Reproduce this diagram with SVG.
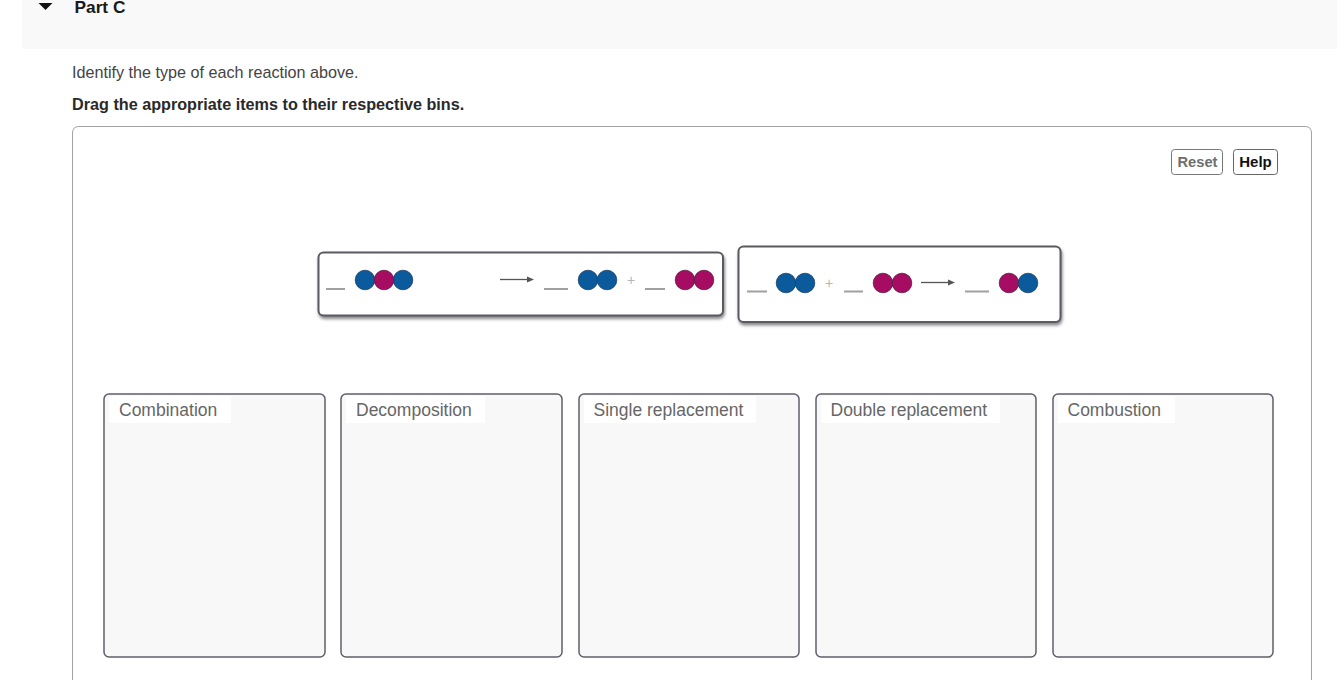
<svg xmlns="http://www.w3.org/2000/svg" width="1337" height="680" viewBox="0 0 1337 680">
<style>
text{font-family:"Liberation Sans",Arial,sans-serif}
.bin{fill:#f8f8f8;stroke:#5f5f6b;stroke-width:1.5}
.lab{fill:#fff}
.bt{font-size:17.5px;fill:#666}
.card{fill:#fff;stroke:#5a5a64;stroke-width:2}
.b{fill:#0b5a9c;stroke:#1d3f66;stroke-width:.8}
.m{fill:#a70c63;stroke:#5c1a45;stroke-width:.8}
.u{stroke:#a0a0a0;stroke-width:1.8}
.ar{stroke:#555;stroke-width:1.3}
.ah{fill:#555}
.pl{font-size:14px;fill:#b5b5b5}
</style>
<defs>
<filter id="sh" x="-5%" y="-20%" width="110%" height="140%"><feDropShadow dx="1" dy="2.500" stdDeviation="1.500" flood-color="#555" flood-opacity=".7"/></filter>
</defs>
<rect width="1337" height="680" fill="#fff"/>
<g id="header">
<rect x="22" y="0" width="1315" height="49" fill="#f9f9f9"/>
<path d="M38.500 3H52.500L45.500 10Z" fill="#111"/>
<text x="74.500" y="13" font-size="17.300" font-weight="bold" fill="#1a1a1a">Part C</text>
</g>
<text x="72" y="78" font-size="16.170" fill="#444">Identify the type of each reaction above.</text>
<text x="72" y="110" font-size="16.200" font-weight="bold" fill="#2a2a2a">Drag the appropriate items to their respective bins.</text>
<path id="panel" d="M72.500 680V133Q72.500 126.500 79 126.500H1305Q1311.500 126.500 1311.500 133V680" fill="#fff" stroke="#a3a3a3"/>
<g id="reset"><rect x="1171.500" y="149.500" width="51" height="25" rx="3" fill="#fff" stroke="#777"/><text x="1197.500" y="167" font-size="14.700" font-weight="bold" fill="#6e6e6e" text-anchor="middle">Reset</text></g>
<g id="help"><rect x="1233.500" y="149.500" width="44" height="25" rx="3" fill="#fff" stroke="#666"/><text x="1255.500" y="167" font-size="15" font-weight="bold" fill="#111" text-anchor="middle">Help</text></g>
<g id="card1">
<rect class="card" x="318.500" y="252.500" width="404.500" height="63" rx="5" filter="url(#sh)"/>
<path class="u" d="M326 289H345M544 289H568M645 289H665"/>
<circle class="b" cx="365" cy="280" r="9.800"/><circle class="b" cx="403" cy="280" r="9.800"/><circle class="m" cx="384" cy="280" r="9.800"/>
<path class="ar" d="M500 279.500H530"/><path class="ah" d="M527 276.500L534 279.500L527 282.500Z"/>
<circle class="b" cx="588" cy="280" r="9.800"/><circle class="b" cx="607" cy="280" r="9.800"/>
<text class="pl" x="631" y="285" text-anchor="middle">+</text>
<circle class="m" cx="685" cy="280" r="9.800"/><circle class="m" cx="704" cy="280" r="9.800"/>
</g>
<g id="card2">
<rect class="card" x="738.500" y="246.500" width="322" height="75.500" rx="5" filter="url(#sh)"/>
<path class="u" d="M747 291.500H767M844 291.500H863M965 291.500H989"/>
<circle class="b" cx="786" cy="283" r="9.800"/><circle class="b" cx="805" cy="283" r="9.800"/>
<text class="pl" x="829" y="288" text-anchor="middle">+</text>
<circle class="m" cx="883" cy="283" r="9.800"/><circle class="m" cx="902" cy="283" r="9.800"/>
<path class="ar" d="M921 282.500H951"/><path class="ah" d="M948 279.500L955 282.500L948 285.500Z"/>
<circle class="m" cx="1009" cy="283" r="9.800"/><circle class="b" cx="1028" cy="283" r="9.800"/>
</g>
<g id="bin1"><rect class="bin" x="104" y="394" width="221" height="263" rx="5"/><rect class="lab" x="109" y="396" width="122" height="27"/><text class="bt" x="119" y="416">Combination</text></g>
<g id="bin2"><rect class="bin" x="341" y="394" width="221" height="263" rx="5"/><rect class="lab" x="346" y="396" width="139" height="27"/><text class="bt" x="356" y="416">Decomposition</text></g>
<g id="bin3"><rect class="bin" x="579" y="394" width="220" height="263" rx="5"/><rect class="lab" x="584" y="396" width="172" height="27"/><text class="bt" x="593.500" y="416">Single replacement</text></g>
<g id="bin4"><rect class="bin" x="816" y="394" width="220" height="263" rx="5"/><rect class="lab" x="821" y="396" width="179" height="27"/><text class="bt" x="830.500" y="416">Double replacement</text></g>
<g id="bin5"><rect class="bin" x="1053" y="394" width="220" height="263" rx="5"/><rect class="lab" x="1058" y="396" width="117" height="27"/><text class="bt" x="1067.500" y="416">Combustion</text></g>
<g id="connectors"/>
</svg>
